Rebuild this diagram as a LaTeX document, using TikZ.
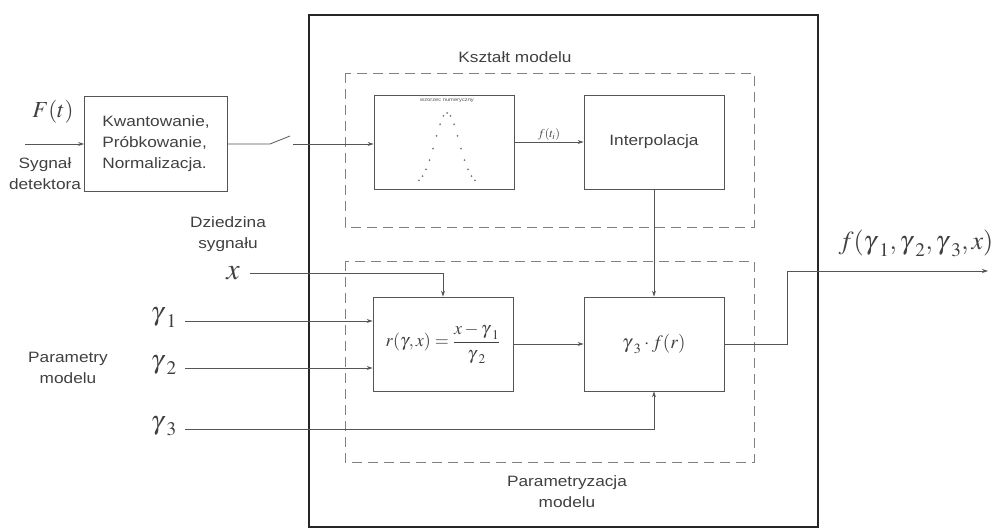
\documentclass[tikz,border=0pt]{standalone}
\usepackage{mathptmx}
\usepackage[no-math]{fontspec}
\setsansfont[FakeStretch=1.15]{Liberation Sans}
\usetikzlibrary{arrows.meta}

\definecolor{linia}{HTML}{555555}
\definecolor{tekst}{HTML}{404040}

\newcommand\gm[1]{{\gamma\mkern2mu}_{#1}}

\tikzset{
  blok/.style={draw=linia, line width=0.8pt, minimum width=140pt, minimum height=94pt, inner sep=2pt, text=tekst},
  ramka/.style={draw=linia!75, line width=0.8pt, dash pattern=on 10pt off 6pt},
  strz/.style={draw=linia, line width=0.8pt, -{Stealth[length=6pt,width=4pt]}},
  opis/.style={font=\sffamily\fontsize{15}{21}\selectfont, text=tekst, align=center},
  mat/.style={text=tekst, inner sep=1pt},
  gam/.style={mat, anchor=base east, inner xsep=8pt, font={\fontsize{26}{28}\selectfont}},
}

\begin{document}
\begin{tikzpicture}[x=1pt, y=-1pt]
\useasboundingbox (0,0) rectangle (1007,529);

% ramki
\draw[line width=2.2pt, black!85] (309,15) rectangle (818,527);
\draw[ramka] (345,73) rectangle (754,227);
\draw[ramka] (345,261) rectangle (754,462);
\node[opis] (ksztalt) at (515,57) {Kształt modelu};
\node[opis] (param) at (567,492) {Parametryzacja\\modelu};

% bloki
\node[blok, opis, align=left, minimum width=143pt, minimum height=95pt] (kwant) at (156,144) {Kwantowanie,\\Próbkowanie,\\Normalizacja.};
\node[blok] (wzorzec) at (444,142) {};
\node[blok, opis] (interp) at (654,142) {Interpolacja};
\node[blok, font={\fontsize{18}{20}\selectfont}] (rfun) at (443,344) {$r(\gamma,x)=\displaystyle\frac{x-\gm{1}}{\gm{2}}$};
\node[blok, font={\fontsize{19}{21}\selectfont}] (gfun) at (654,344) {$\gm{3}\cdot f(r)$};

% wzorzec numeryczny
\node[font=\sffamily\fontsize{5}{6}\selectfont, text=linia] (tytul) at (447,101) {wzorzec numeryczny};
\foreach \k in {-8,...,8}
  \fill[linia!80] ({447+3.5*\k}, {185-72*exp(-(3.5*\k)*(3.5*\k)/288)}) circle (1pt);

% wejscie
\coordinate (wejscie) at (25,144);
\draw[strz] (wejscie) -- (kwant.west);
\node[mat, font={\fontsize{23}{26}\selectfont}] (Ft) at (53,112) {$F(t)$};
\node[opis] (sygnal) at (45,174) {Sygnał\\detektora};

% klucz
\coordinate (k1) at (270,144);
\coordinate (k2) at (290,136);
\coordinate (k3) at (293,144);
\draw[linia, line width=0.8pt] (kwant.east) -- (k1) -- (k2);
\draw[strz] (k3) -- (k3 -| wzorzec.west);

\draw[strz] (wzorzec) -- node[above, mat, font={\fontsize{12}{14}\selectfont}] (fti) {$f(t_i)$} (interp);
\draw[strz] (interp) -- (gfun);
\draw[strz] (rfun) -- (gfun);

% dziedzina sygnalu
\node[opis] (dziedz) at (228,234) {Dziedzina\\sygnału};
\node[mat, anchor=east, inner xsep=10pt, font={\fontsize{30}{30}\selectfont}] (xin) at (250,273) {$x$};
\draw[strz] (xin.east) -| (rfun.north);

% parametry
\node[opis] (parametry) at (68,368) {Parametry\\modelu};
\node[gam] (g1) at (185,321) {$\gm{1}$};
\node[gam] (g2) at (185,368) {$\gm{2}$};
\node[gam] (g3) at (185,429) {$\gm{3}$};
\draw[strz] (g1.base east) -- (g1.base east -| rfun.west);
\draw[strz] (g2.base east) -- (g2.base east -| rfun.west);
\draw[strz] (g3.base east) -| (gfun.south);

% wyjscie
\coordinate (wyjscie) at (988,271);
\draw[strz] (gfun.east) -- ++(63,0) |- (wyjscie);
\node[mat, font={\fontsize{26}{28}\selectfont}] (fout) at (916,243) {$f(\gm{1},\gm{2},\gm{3},x)$};

\end{tikzpicture}
\end{document}
